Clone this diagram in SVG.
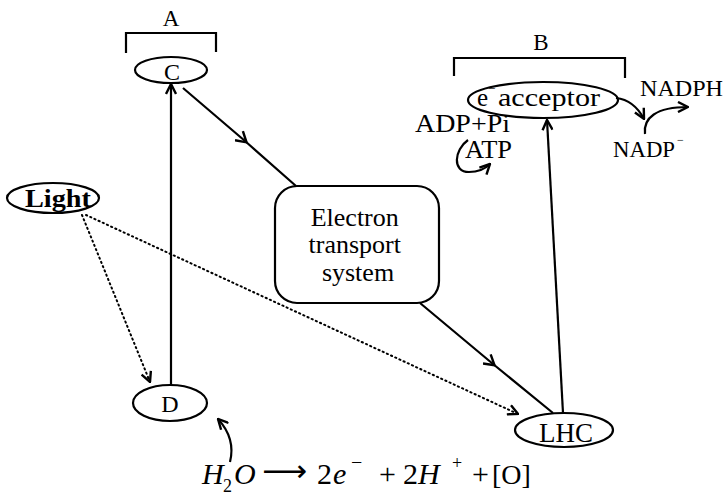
<svg xmlns="http://www.w3.org/2000/svg" width="728" height="496" viewBox="0 0 728 496">
<defs>
<style>
.t{font-family:"Liberation Serif","Times New Roman",serif;fill:#000}
.n{fill:none;stroke:#000;stroke-width:2.2}
.l{fill:none;stroke:#000;stroke-width:2.2}
.d{fill:none;stroke:#000;stroke-width:2;stroke-dasharray:1.2 3.4;stroke-linecap:round}
</style>
<marker id="ah" markerUnits="userSpaceOnUse" viewBox="0 0 12 12" refX="11" refY="6" markerWidth="12" markerHeight="12" orient="auto">
<path d="M1,1 L11,6 L1,11" fill="none" stroke="#000" stroke-width="2.4" stroke-linejoin="miter"/>
</marker>
<marker id="ahm" markerUnits="userSpaceOnUse" viewBox="0 0 14 14" refX="9" refY="7" markerWidth="14" markerHeight="14" orient="auto">
<path d="M1,1 L11,7 L1,13" fill="none" stroke="#000" stroke-width="2.4"/>
</marker>
</defs>
<rect width="728" height="496" fill="#fff"/>

<g id="bracketA">
<path class="l" d="M126,53 V33 H216 V52"/>
<text class="t" x="171" y="26" font-size="23" text-anchor="middle">A</text>
</g>
<g id="bracketB">
<path class="l" d="M454,76 V58 H625 V78"/>
<text class="t" x="541" y="50" font-size="23" text-anchor="middle">B</text>
</g>

<g id="nodeC">
<ellipse class="n" cx="171" cy="70" rx="36" ry="13"/>
<text class="t" x="172" y="80" font-size="24" text-anchor="middle">C</text>
</g>
<g id="nodeD">
<ellipse class="n" cx="170" cy="403" rx="37" ry="18"/>
<text class="t" x="170" y="412" font-size="24" text-anchor="middle">D</text>
</g>
<g id="nodeLight">
<ellipse class="n" cx="53" cy="198" rx="46" ry="15"/>
<text class="t" x="25" y="207" font-size="26" font-weight="bold" textLength="66" lengthAdjust="spacingAndGlyphs">Light</text>
</g>
<g id="nodeETS">
<rect class="n" x="275" y="186" width="164" height="117" rx="22"/>
<text class="t" font-size="26" text-anchor="middle">
<tspan x="358" y="226">Electron</tspan>
<tspan x="358" y="253">transport</tspan>
<tspan x="358" y="281">system</tspan>
</text>
</g>
<g id="nodeLHC">
<ellipse class="n" cx="564" cy="430" rx="49" ry="17"/>
<text class="t" x="566" y="442" font-size="27" text-anchor="middle">LHC</text>
</g>
<g id="nodeAcceptor">
<ellipse class="n" cx="543" cy="100" rx="75" ry="18"/>
<text class="t" x="477" y="106" font-size="25">e</text>
<text class="t" x="488" y="93" font-size="13">−</text>
<text class="t" x="498" y="106" font-size="25" textLength="102" lengthAdjust="spacingAndGlyphs">acceptor</text>
</g>
<g id="labels">
<text class="t" x="640" y="96" font-size="24" textLength="83" lengthAdjust="spacingAndGlyphs">NADPH</text>
<text class="t" x="613" y="157" font-size="24" textLength="62" lengthAdjust="spacingAndGlyphs">NADP</text>
<text class="t" x="677" y="144" font-size="12">−</text>
<text class="t" x="415" y="132" font-size="25" textLength="95" lengthAdjust="spacingAndGlyphs">ADP+Pi</text>
<text class="t" x="465" y="158" font-size="25" textLength="47" lengthAdjust="spacingAndGlyphs">ATP</text>
</g>
<g id="equation" class="t">
<text x="202" y="484" font-size="30" font-style="italic">H</text>
<text x="223" y="492" font-size="18">2</text>
<text x="234" y="484" font-size="30" font-style="italic">O</text>
<text x="262" y="481" font-size="30" font-family="DejaVu Sans, sans-serif" textLength="45" lengthAdjust="spacingAndGlyphs">⟶</text>
<text x="317" y="484" font-size="30">2</text>
<text x="333" y="484" font-size="30" font-style="italic">e</text>
<text x="351" y="469" font-size="20">−</text>
<text x="379" y="484" font-size="30">+</text>
<text x="403" y="484" font-size="30">2</text>
<text x="418" y="484" font-size="30" font-style="italic">H</text>
<text x="452" y="469" font-size="18">+</text>
<text x="472" y="484" font-size="30">+</text>
<text x="492" y="484" font-size="28">[O]</text>
</g>

<g id="connectors">
<path class="l" d="M171,385 V84" marker-end="url(#ah)"/>
<path class="l" d="M183,88 L245,141 L296,186" marker-mid="url(#ahm)"/>
<path class="l" d="M420,303 L493,364 L553,413" marker-mid="url(#ahm)"/>
<path class="l" d="M563,413 L547,120" marker-end="url(#ah)"/>
<path class="d" d="M82,215 L150,382" marker-end="url(#ah)"/>
<path class="d" d="M86,215 L518,414" marker-end="url(#ah)"/>
<path class="l" d="M616,98 Q634,100 644,119" marker-end="url(#ah)"/>
<path class="l" d="M645,134 C643,118 656,107 688,107" marker-end="url(#ah)"/>
<path class="l" d="M468,140 C454,150 452,172 469,172 C478,172 485,169 490,164" marker-end="url(#ah)"/>
<path class="l" d="M230,462 C234,446 229,431 218,419" marker-end="url(#ah)"/>
</g>
</svg>
